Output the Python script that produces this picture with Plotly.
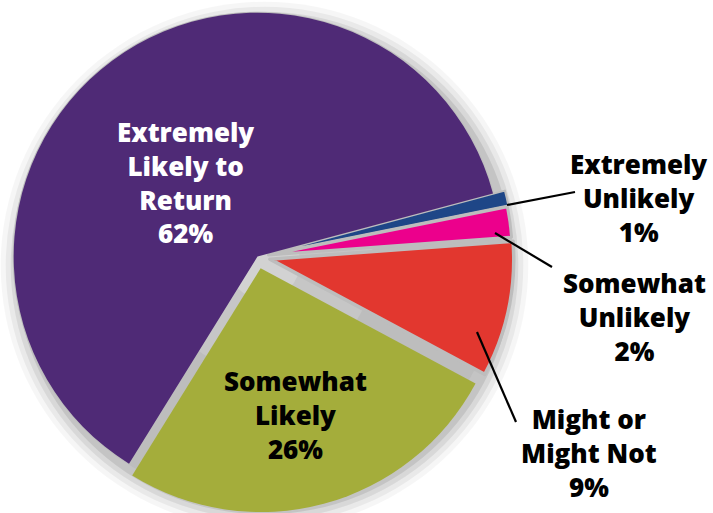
import plotly.graph_objects as go

# Survey responses, listed clockwise starting just below the largest slice
labels = ["Extremely<br>Unlikely", "Somewhat<br>Unlikely", "Might or<br>Might Not",
          "Somewhat<br>Likely", "Extremely<br>Likely to<br>Return"]
values = [1, 2, 9, 26, 62]
colors = ["#1e4687", "#ec008c", "#e2372f", "#a4ad3b", "#4f2a76"]
pulls = [0.05, 0.045, 0.052, 0.05, 0.0]

W, H = 713, 513
FONT = "Open Sans"
FSIZE = 26
GREY = "#bdbdbd"

dom_x = [0.0, 515 / W]
dom_y = [0.0, 1.0]

# pie geometry as plotly computes it (zero margins)
box_w = W * (dom_x[1] - dom_x[0])
box_h = H * (dom_y[1] - dom_y[0])
r = min(box_w, box_h) / (2 + 2 * max(pulls))
cx = W * (dom_x[0] + dom_x[1]) / 2
cy = H * (1 - (dom_y[0] + dom_y[1]) / 2)


def fx(x):
    return x / W


def fy(y):
    return 1 - y / H


def circle(x, y, rad, color, opacity=1.0):
    return dict(type="circle", xref="paper", yref="paper", layer="below",
                x0=fx(x - rad), x1=fx(x + rad), y0=fy(y + rad), y1=fy(y - rad),
                fillcolor=color, opacity=opacity, line=dict(width=0))


shapes = []
# soft drop shadow toward the lower right
for grow, op in [(20, 0.035), (15, 0.05), (10, 0.07), (5, 0.09)]:
    shapes.append(circle(cx + 7, cy + 9, r + grow, "#000000", op))
# grey base that shows through the gaps between pulled slices
shapes.append(circle(cx, cy, r + 1, GREY))
shapes.append(circle(cx + 6, cy + 6, r * 0.45, "#c6c6c6"))
shapes.append(circle(cx + 6, cy + 6, r * 0.15, "#d2d2d2"))

# leader lines for the small slices (pixel endpoints)
leaders = [((507, 205), (575, 192)),
           ((495, 233), (552, 267)),
           ((477, 332), (516, 422))]
for (x0, y0), (x1, y1) in leaders:
    shapes.append(dict(type="line", xref="paper", yref="paper", layer="above",
                       x0=fx(x0), y0=fy(y0), x1=fx(x1), y1=fy(y1),
                       line=dict(color="#000000", width=2.2)))

# label placement (pixel centres) and colour per slice
label_pos = [(638, 198), (634, 317), (589, 453), (295, 415), (185, 183)]
label_col = ["#000000", "#000000", "#000000", "#000000", "#ffffff"]

annotations = []
for lab, val, (x, y), col in zip(labels, values, label_pos, label_col):
    annotations.append(dict(
        x=fx(x), y=fy(y), xref="paper", yref="paper",
        text=f"{lab}<br>{val}%", showarrow=False,
        xanchor="center", yanchor="middle", align="center",
        font=dict(family=FONT, size=FSIZE, color=col, weight=800)))

fig = go.Figure(go.Pie(
    labels=[l.replace("<br>", " ") for l in labels],
    values=values,
    sort=False,
    direction="clockwise",
    rotation=75,
    pull=pulls,
    marker=dict(colors=colors,
                line=dict(color=GREY, width=[2, 3, 3.5, 0, 0])),
    textinfo="none",
    hoverinfo="label+percent",
    domain=dict(x=dom_x, y=dom_y),
    showlegend=False,
))

fig.update_layout(
    width=W, height=H,
    margin=dict(l=0, r=0, t=0, b=0),
    paper_bgcolor="#ffffff",
    plot_bgcolor="#ffffff",
    shapes=shapes,
    annotations=annotations,
)

fig.write_html("out.html")
